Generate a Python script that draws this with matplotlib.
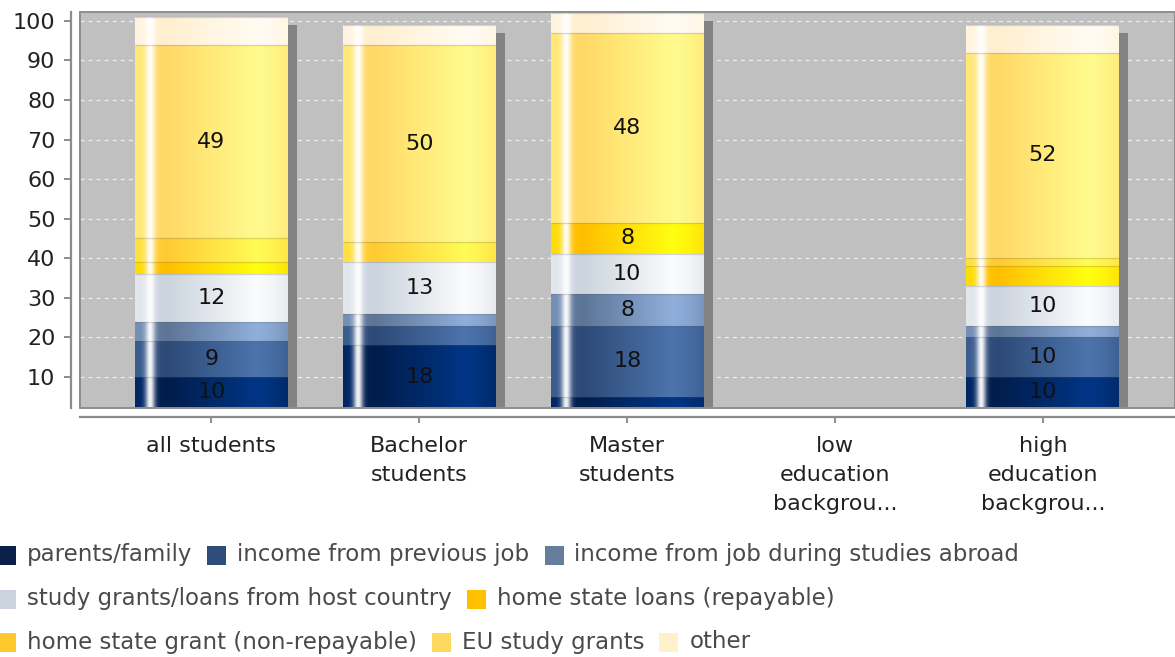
import numpy as np
import matplotlib
matplotlib.use("Agg")
import matplotlib.pyplot as plt
from matplotlib.patches import Rectangle
from matplotlib.transforms import offset_copy
from matplotlib.colors import to_rgb

# ---------------- data ----------------
categories = ["all students", "Bachelor\nstudents", "Master\nstudents",
              "low\neducation\nbackgrou...", "high\neducation\nbackgrou..."]
series_names = ["parents/family", "income from previous job",
                "income from job during studies abroad",
                "study grants/loans from host country", "home state loans (repayable)",
                "home state grant (non-repayable)", "EU study grants", "other"]
nan = np.nan
parents_family = [10, 18, 5, nan, 10]
previous_job = [9, 5, 18, nan, 10]
job_abroad = [5, 3, 8, nan, 3]
host_country = [12, 13, 10, nan, 10]
home_loans = [3, 0, 8, nan, 5]
home_grant = [6, 5, 0, nan, 2]
eu_grants = [49, 50, 48, nan, 52]
other = [7, 5, 5, nan, 7]
y_ticks = [10, 20, 30, 40, 50, 60, 70, 80, 90, 100]

series_values = [parents_family, previous_job, job_abroad, host_country,
                 home_loans, home_grant, eu_grants, other]

# (dark, light) gradient colours and legend swatch colours
grad_colors = [("#001d4c", "#003585"), ("#2d4a77", "#4c74ac"), ("#5d7597", "#90afdb"),
               ("#ccd4de", "#fbfcfd"), ("#ffbf00", "#ffff10"), ("#ffcb33", "#fffb55"),
               ("#ffd966", "#fffb8e"), ("#ffefd0", "#fffcf3")]
swatch_colors = ["#0b1f4b", "#2f4d7a", "#677d9e", "#cbd3de", "#ffc000", "#ffc82e",
                 "#ffd85e", "#fff1cc"]

FS = 16
FS_LEG = 16.5
plt.rcParams["font.family"] = ["DejaVu Sans"]
plt.rcParams["lines.scale_dashes"] = False

W, H = 1175, 657
fig = plt.figure(figsize=(W / 100, H / 100), dpi=100)
ax = fig.add_axes([80 / W, (H - 408) / H, 1095 / W, 396 / H])
ax.set_facecolor("#c0c0c0")

x = np.arange(len(categories))
bw = 0.736

# gradient profile
def gradient(dark, light, n=300):
    d = np.array(to_rgb(dark)); l = np.array(to_rgb(light))
    t = np.linspace(0, 1, n)
    s = np.interp(t, [0, 0.05, 0.14, 0.21, 0.80, 0.92, 1.0],
                  [0.45, 0.45, 0.05, 0.0, 1.0, 0.8, 0.55])
    col = d + (l - d) * s[:, None]
    hl = 0.95 * np.exp(-((t - 0.098) / 0.032) ** 2)
    col = col + (1 - col) * hl[:, None]
    return np.clip(col, 0, 1)[None, :, :]

# shadow behind the stacks
vals = np.array(series_values, dtype=float)
totals = np.where(np.all(np.isnan(vals), axis=0), nan, np.nansum(vals, axis=0))
shadow_tr = offset_copy(ax.transData, fig=fig, x=9, y=-8, units="dots")
ax.bar(x, totals, bw, color="#838383", transform=shadow_tr, zorder=1.5, linewidth=0)

bottom = np.zeros(len(categories))
for vals_s, (dk, lt) in zip(series_values, grad_colors):
    v = np.array(vals_s, dtype=float)
    bars = ax.bar(x, v, bw, bottom=bottom, color=dk, linewidth=0, zorder=2)
    img = gradient(dk, lt)
    for p in bars.patches:
        h = p.get_height()
        if not np.isfinite(h) or h <= 0:
            continue
        ax.imshow(img, extent=[p.get_x(), p.get_x() + p.get_width(), p.get_y(), p.get_y() + h],
                  aspect="auto", interpolation="bilinear", zorder=2.2)
    # faint segment boundary lines
    tops = bottom + np.nan_to_num(v)
    ok = np.isfinite(v) & (v > 0)
    ax.hlines(tops[ok], (x - bw / 2)[ok], (x + bw / 2)[ok], color=(0.35, 0.35, 0.35, 0.22),
              lw=0.9, zorder=2.4)
    labels = [("%d" % vv) if (np.isfinite(vv) and vv >= 8) else "" for vv in v]
    ax.bar_label(bars, labels=labels, label_type="center", fontsize=FS, color="#111111",
                 zorder=3)
    bottom = bottom + np.nan_to_num(v)

ax.set_xlim(-0.6325, 4.635)
ax.set_ylim(2.15, 102.25)

# grid
ax.set_axisbelow(True)
ax.yaxis.grid(True, color="#ececec", lw=0.9, linestyle=(0, (2.9, 2.9)))
ax.xaxis.grid(False)

# spines / frame
for s in ["top", "right"]:
    ax.spines[s].set_visible(False)
for s in ["left", "bottom"]:
    ax.spines[s].set_position(("outward", 6.5))
    ax.spines[s].set_color("#8c8c8c")
    ax.spines[s].set_linewidth(1.6)
ax.add_patch(Rectangle((0, 0), 1, 1, transform=ax.transAxes, fill=False,
                       edgecolor="#8e8e8e", lw=1.4, zorder=4, clip_on=False))

ax.set_yticks(y_ticks)
ax.set_yticklabels([str(t) for t in y_ticks])
ax.set_xticks(x)
ax.set_xticklabels(categories, linespacing=1.56)
ax.tick_params(axis="y", length=5, width=1.4, color="#8c8c8c", pad=6.2,
               labelsize=FS, labelcolor="#222222")
ax.tick_params(axis="x", length=4, width=1.4, color="#8c8c8c", pad=9.5,
               labelsize=FS, labelcolor="#222222")

# ---------------- legend (three rows) ----------------
rows = [[0, 1, 2], [3, 4], [5, 6, 7]]
row_y = [555, 599, 642]
renderer = fig.canvas.get_renderer()
sq = 19
for r, yc in zip(rows, row_y):
    xp = -3
    for i in r:
        fig.patches.append(Rectangle((xp / W, 1 - (yc + sq / 2) / H), sq / W, sq / H,
                                     transform=fig.transFigure, facecolor=swatch_colors[i],
                                     edgecolor="none"))
        t = fig.text((xp + sq + 11) / W, 1 - yc / H, series_names[i], fontsize=FS_LEG,
                     color="#4a4a4a", va="center", ha="left")
        wpx = t.get_window_extent(renderer=renderer).width
        xp = xp + sq + 11 + wpx + 15

fig.savefig("out.png", dpi=100)
